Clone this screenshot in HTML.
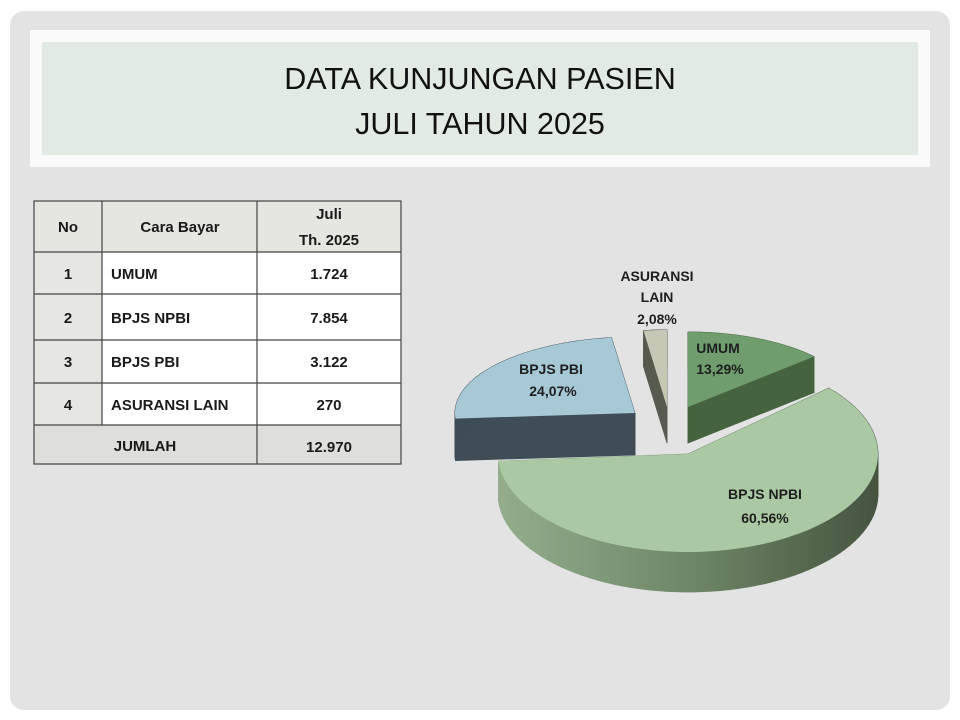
<!DOCTYPE html>
<html><head><meta charset="utf-8"><style>
html,body{margin:0;padding:0;background:#fff;width:960px;height:720px;overflow:hidden}
svg{display:block}
</style></head><body>
<svg id="s" width="960" height="720" viewBox="0 0 960 720" xmlns="http://www.w3.org/2000/svg" font-family="Liberation Sans, sans-serif">
<defs>
<linearGradient id="gn" gradientUnits="userSpaceOnUse" x1="498" y1="0" x2="878" y2="0">
<stop offset="0" stop-color="#93ad8d"/><stop offset="0.5" stop-color="#6f8768"/><stop offset="1" stop-color="#46543f"/>
</linearGradient>
</defs>
<rect x="10" y="11" width="940" height="699" rx="14" fill="#e3e3e3"/>
<rect x="30" y="30" width="900" height="137" fill="#fafafa"/>
<rect x="42" y="42" width="876" height="113" fill="#e1ebe3"/>
<text x="480" y="89" font-size="30.5" text-anchor="middle" fill="#111">DATA KUNJUNGAN PASIEN</text>
<text x="480" y="134" font-size="30.5" text-anchor="middle" fill="#111">JULI TAHUN 2025</text>

<g>
<rect x="34" y="201" width="367" height="51" fill="#e6e6e1"/>
<rect x="34" y="252" width="68" height="173" fill="#e6e6e3"/>
<rect x="102" y="252" width="299" height="173" fill="#fff"/>
<rect x="34" y="425" width="367" height="39" fill="#dededa"/>
<g stroke="#444" stroke-width="1.2" fill="none">
<rect x="34" y="201" width="367" height="263"/>
<line x1="102" y1="201" x2="102" y2="425"/>
<line x1="257" y1="201" x2="257" y2="464"/>
<line x1="34" y1="252" x2="401" y2="252"/>
<line x1="34" y1="294" x2="401" y2="294"/>
<line x1="34" y1="340" x2="401" y2="340"/>
<line x1="34" y1="383" x2="401" y2="383"/>
<line x1="34" y1="425" x2="401" y2="425"/>
</g>
<g font-size="15" font-weight="bold" fill="#1a1a1a">
<text x="68" y="232" text-anchor="middle">No</text>
<text x="180" y="232" text-anchor="middle">Cara Bayar</text>
<text x="329" y="219" text-anchor="middle">Juli</text>
<text x="329" y="245" text-anchor="middle">Th. 2025</text>
<text x="68" y="279" text-anchor="middle">1</text>
<text x="68" y="323" text-anchor="middle">2</text>
<text x="68" y="367" text-anchor="middle">3</text>
<text x="68" y="410" text-anchor="middle">4</text>
<text x="111" y="279">UMUM</text>
<text x="111" y="323">BPJS NPBI</text>
<text x="111" y="367">BPJS PBI</text>
<text x="111" y="410">ASURANSI LAIN</text>
<text x="329" y="279" text-anchor="middle">1.724</text>
<text x="329" y="323" text-anchor="middle">7.854</text>
<text x="329" y="367" text-anchor="middle">3.122</text>
<text x="329" y="410" text-anchor="middle">270</text>
<text x="145" y="451" text-anchor="middle">JUMLAH</text>
<text x="329" y="452" text-anchor="middle">12.970</text>
</g>
</g>
<g id="pie"></g>
<g font-size="14" font-weight="bold" fill="#1e1e1e" text-anchor="middle">
<text x="657" y="281">ASURANSI</text>
<text x="657" y="302">LAIN</text>
<text x="657" y="324">2,08%</text>
<text x="718" y="353">UMUM</text>
<text x="720" y="374">13,29%</text>
<text x="551" y="374">BPJS PBI</text>
<text x="553" y="396">24,07%</text>
<text x="765" y="499">BPJS NPBI</text>
<text x="765" y="523">60,56%</text>
</g>
</svg>
<script>
(function(){
var NS="http://www.w3.org/2000/svg",g=document.getElementById("pie");
function pts(cx,cy,rx,ry,a0,a1){var p=[[cx,cy]],n=80;for(var i=0;i<=n;i++){var a=(a0+(a1-a0)*i/n)*Math.PI/180;p.push([cx+rx*Math.sin(a),cy-ry*Math.cos(a)]);}return p;}
function el(t,at){var e=document.createElementNS(NS,t);for(var k in at)e.setAttribute(k,at[k]);g.appendChild(e);return e;}
function slice(cx,cy,rx,ry,a0,a1,d,top,side){
var p=pts(cx,cy,rx,ry,a0,a1),n=p.length;
for(var i=0;i<n;i++){var a=p[i],b=p[(i+1)%n];
el("polygon",{points:a[0]+","+a[1]+" "+b[0]+","+b[1]+" "+b[0]+","+(b[1]+d)+" "+a[0]+","+(a[1]+d),fill:side,stroke:side,"stroke-width":"0.8"});}
el("polygon",{points:p.map(function(q){return q[0]+","+q[1]}).join(" "),fill:top});
}
slice(635,413,180,76,265.8,352.5,42,"#a7c9d5","#3e4d56");
slice(667,407,180,77,352.5,360,36,"#c7c7b5","#575a4e");
slice(688,407,170,75,0,47.8,36,"#6f9d6e","#46633f");
slice(688,454,190,98,47.8,265.8,40,"#aac8a4","url(#gn)");
})();
</script>
</body></html>
